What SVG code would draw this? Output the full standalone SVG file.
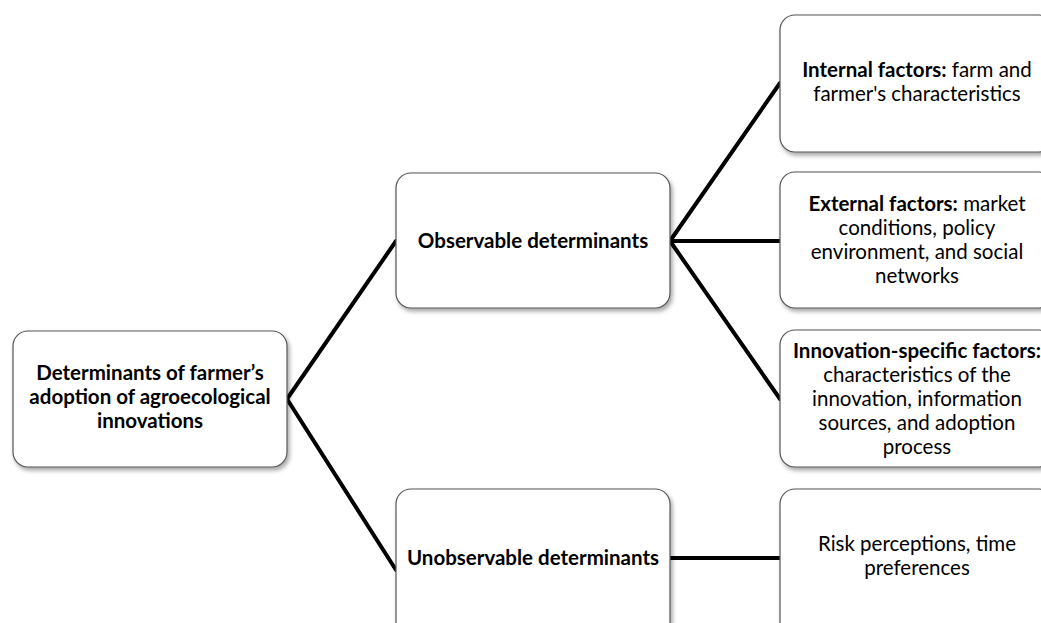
<svg xmlns="http://www.w3.org/2000/svg" width="1041" height="623" viewBox="0 0 1041 623">
<defs>
<filter id="sh" x="-10%" y="-10%" width="130%" height="130%">
<feDropShadow dx="2" dy="3" stdDeviation="2" flood-color="#000" flood-opacity="0.35"/>
</filter>
<style>
.box{fill:#fff;stroke:#555;stroke-width:1.2;filter:url(#sh)}
.t{font-family:Lato,"Open Sans","Liberation Sans",sans-serif;font-size:20.5px;fill:#000;text-anchor:middle}
.b{font-weight:bold}
.c{stroke:#000;stroke-width:4;fill:none;stroke-linecap:round}
</style>
</defs>
<rect width="1041" height="623" fill="#fff"/>
<g id="connectors">
<line class="c" x1="287" y1="399" x2="396" y2="241"/>
<line class="c" x1="287" y1="399" x2="396" y2="570"/>
<line class="c" x1="670" y1="241" x2="780" y2="83"/>
<line class="c" x1="670" y1="241" x2="780" y2="241"/>
<line class="c" x1="670" y1="241" x2="780" y2="399"/>
<line class="c" x1="670" y1="558" x2="780" y2="558"/>
</g>
<g id="root">
<rect class="box" x="13" y="331" width="274" height="136" rx="15"/>
<text class="t b" x="150" y="380">Determinants of farmer’s</text>
<text class="t b" x="150" y="404">adoption of agroecological</text>
<text class="t b" x="150" y="428">innovations</text>
</g>
<g id="observable">
<rect class="box" x="396" y="173" width="274" height="135" rx="15"/>
<text class="t b" x="533" y="248">Observable determinants</text>
</g>
<g id="unobservable">
<rect class="box" x="396" y="489" width="274" height="150" rx="15"/>
<text class="t b" x="533" y="565">Unobservable determinants</text>
</g>
<g id="internal">
<rect class="box" x="780" y="15" width="274" height="137" rx="15"/>
<text class="t" x="917" y="77"><tspan class="b">Internal factors:</tspan> farm and</text>
<text class="t" x="917" y="101">farmer's characteristics</text>
</g>
<g id="external">
<rect class="box" x="780" y="172" width="274" height="136" rx="15"/>
<text class="t" x="917" y="211"><tspan class="b">External factors:</tspan> market</text>
<text class="t" x="917" y="235">conditions, policy</text>
<text class="t" x="917" y="259">environment, and social</text>
<text class="t" x="917" y="283">networks</text>
</g>
<g id="innovation">
<rect class="box" x="780" y="330" width="274" height="137" rx="15"/>
<text class="t" x="917" y="358"><tspan class="b">Innovation-specific factors:</tspan></text>
<text class="t" x="917" y="382">characteristics of the</text>
<text class="t" x="917" y="406">innovation, information</text>
<text class="t" x="917" y="430">sources, and adoption</text>
<text class="t" x="917" y="454">process</text>
</g>
<g id="risk">
<rect class="box" x="780" y="489" width="274" height="150" rx="15"/>
<text class="t" x="917" y="551">Risk perceptions, time</text>
<text class="t" x="917" y="575">preferences</text>
</g>
</svg>
